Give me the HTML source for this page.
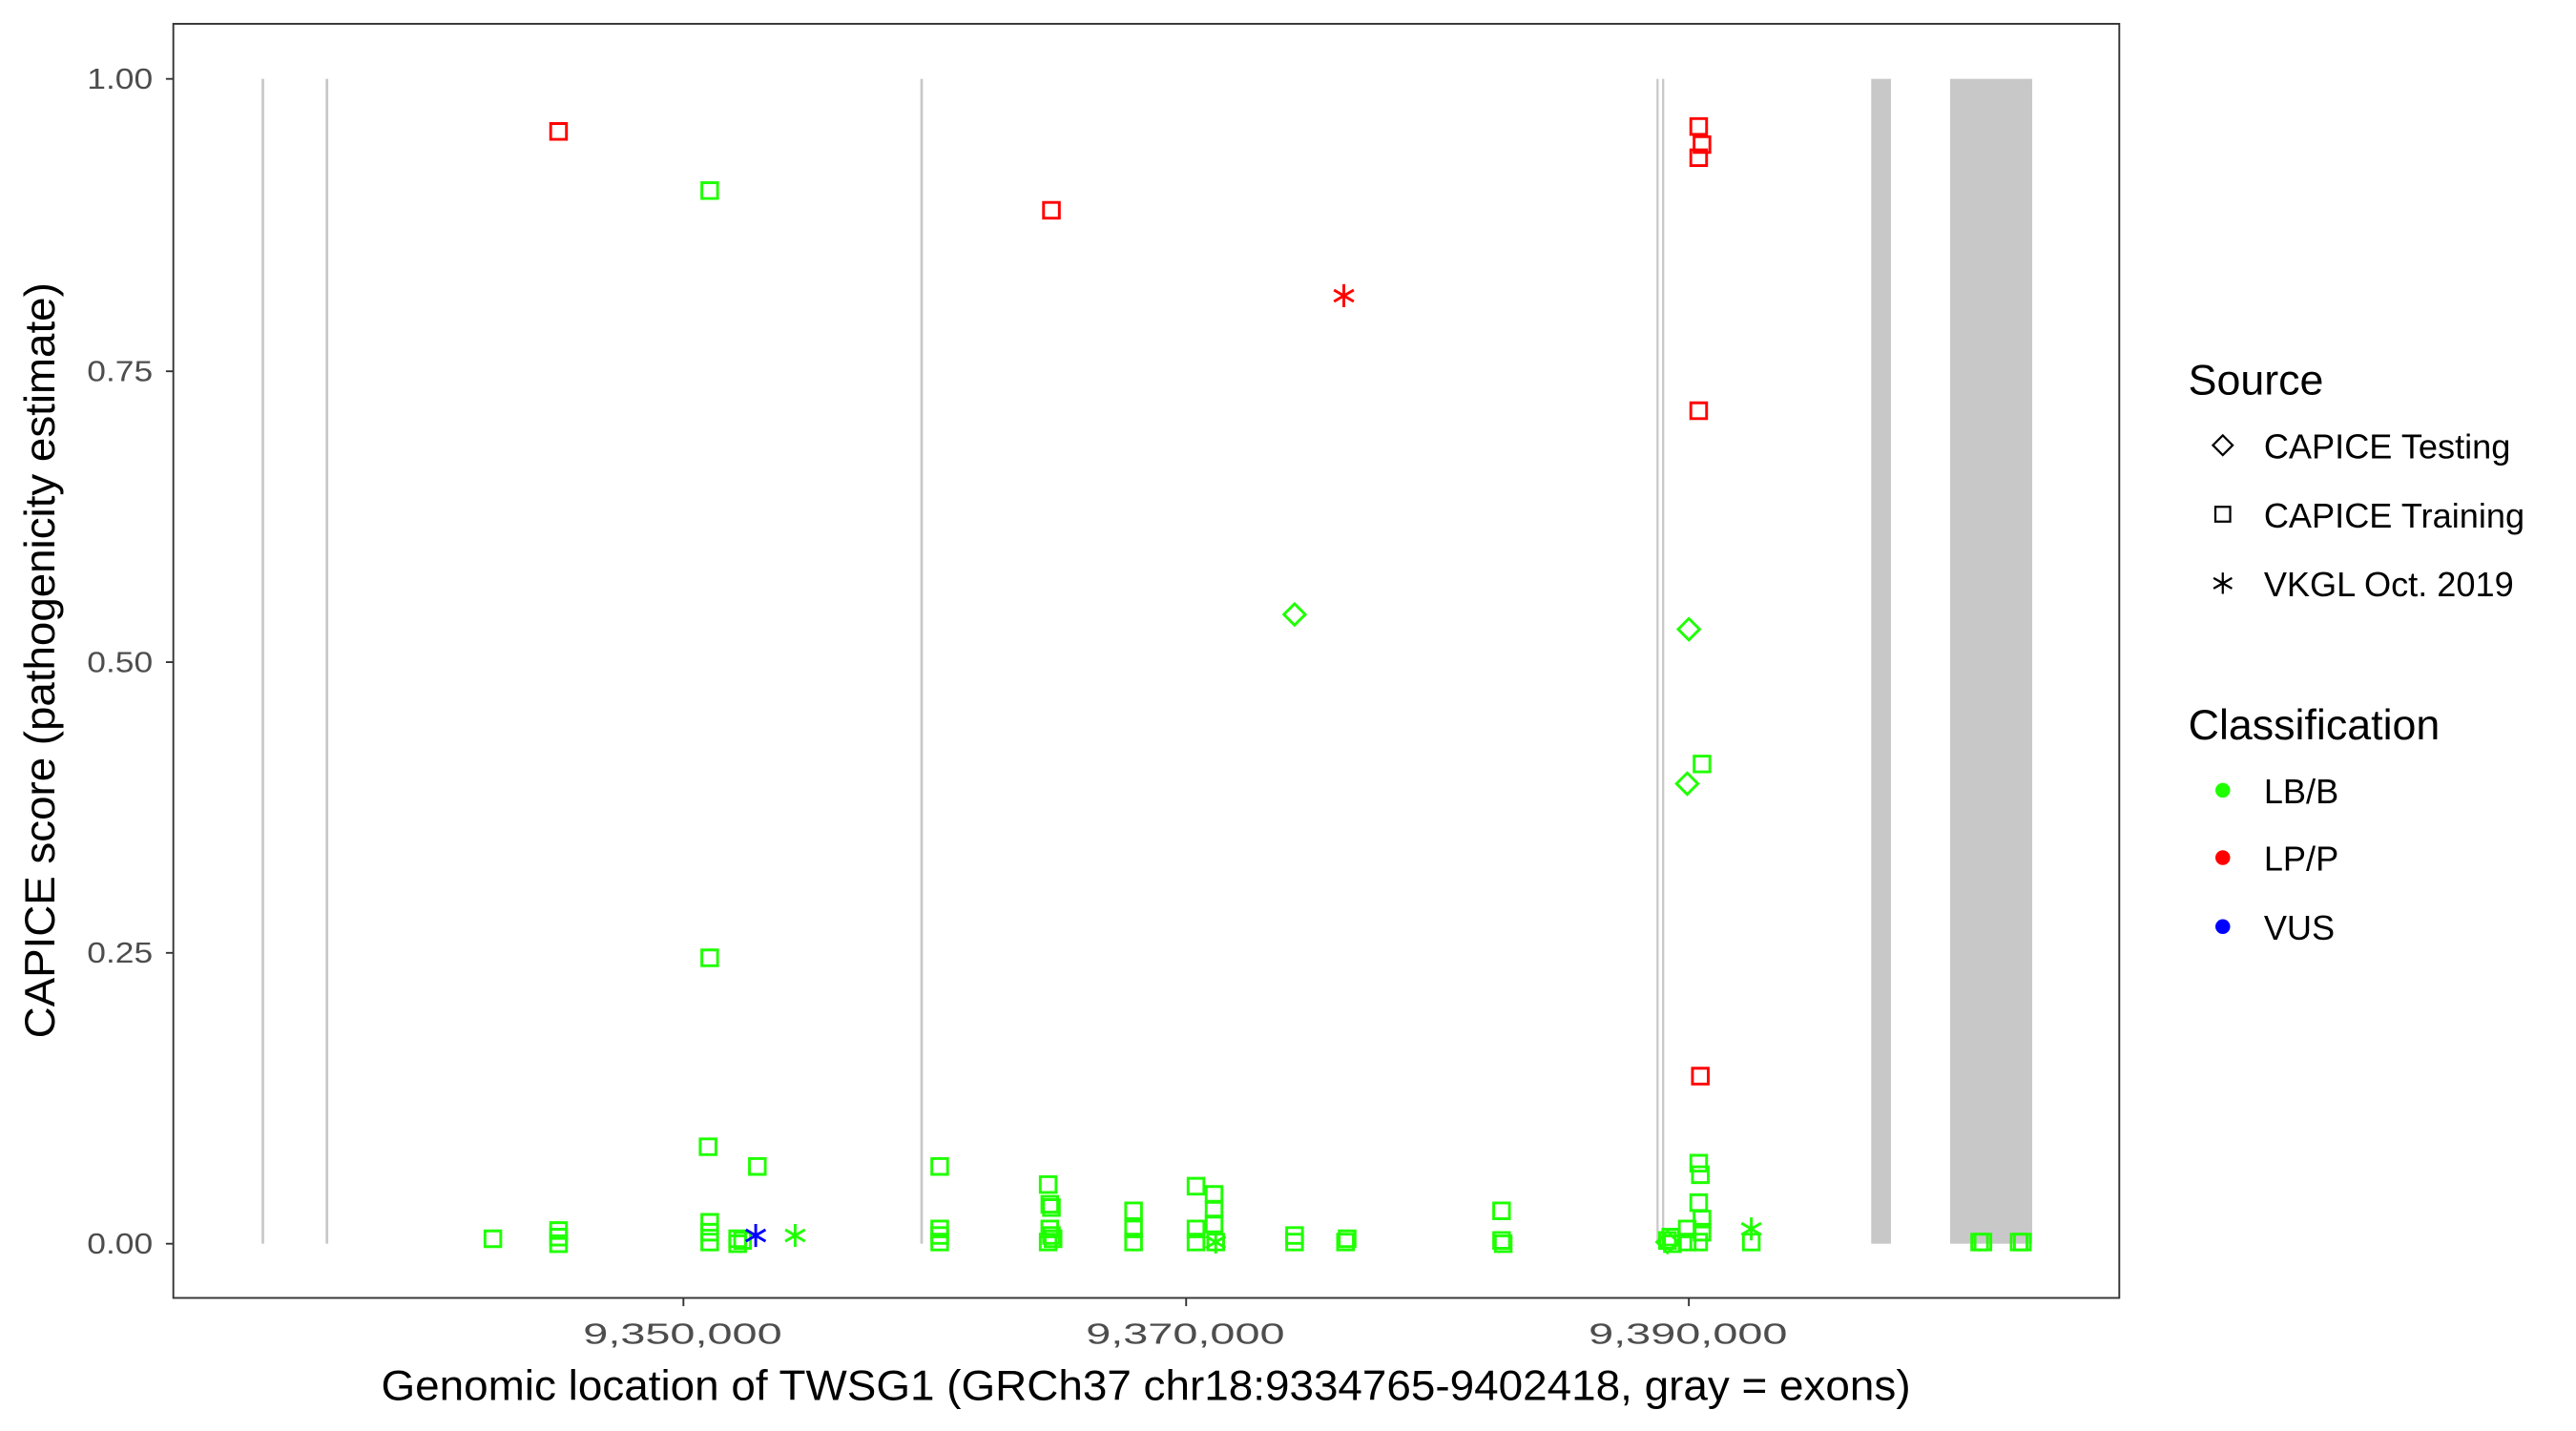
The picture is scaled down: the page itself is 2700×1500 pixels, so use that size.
<!DOCTYPE html>
<html><head><meta charset="utf-8"><style>html,body{margin:0;padding:0;background:#fff}svg{display:block}</style></head>
<body>
<svg width="2700" height="1500" viewBox="0 0 1568 871" preserveAspectRatio="none" xmlns="http://www.w3.org/2000/svg" font-family="Liberation Sans, sans-serif">
<rect width="1568" height="871" fill="#fff"/>
<g fill="#c8c8c8">
<rect x="159.2" y="48" width="1.6" height="709"/>
<rect x="198.2" y="48" width="1.6" height="709"/>
<rect x="560.2" y="48" width="1.6" height="709"/>
<rect x="1008.3" y="48" width="1.3" height="709"/>
<rect x="1011.7" y="48" width="1.3" height="709"/>
<rect x="1139" y="48" width="12" height="709"/>
<rect x="1187" y="48" width="50" height="709"/>
</g>
<defs>
<path id="sq" d="M-4.8,-4.8h9.6v9.6h-9.6z"/>
<path id="dm" d="M0,-6.5L6.5,0L0,6.5L-6.5,0z"/>
<path id="st" d="M0,-7V7M-6,-3.5L6,3.5M-6,3.5L6,-3.5"/>
</defs>
<g fill="none" stroke-width="1.7">
<g stroke="#1fff00">
<use href="#sq" x="432" y="116"/><use href="#sq" x="432" y="583"/><use href="#sq" x="431" y="698"/>
<use href="#sq" x="461" y="710"/><use href="#sq" x="432" y="744"/><use href="#sq" x="432" y="750"/>
<use href="#sq" x="432" y="756"/><use href="#sq" x="300" y="754"/><use href="#sq" x="340" y="749"/>
<use href="#sq" x="340" y="753"/><use href="#sq" x="340" y="757"/><use href="#sq" x="449" y="754"/>
<use href="#sq" x="449" y="757"/><use href="#sq" x="452" y="755"/><use href="#sq" x="572" y="710"/>
<use href="#sq" x="572" y="748"/><use href="#sq" x="572" y="752"/><use href="#sq" x="572" y="756"/>
<use href="#sq" x="638" y="721"/><use href="#sq" x="639" y="733"/><use href="#sq" x="640" y="735"/>
<use href="#sq" x="639" y="748"/><use href="#sq" x="640" y="752"/><use href="#sq" x="638" y="756"/>
<use href="#sq" x="641" y="754"/><use href="#sq" x="690" y="737"/><use href="#sq" x="690" y="748"/>
<use href="#sq" x="690" y="756"/><use href="#sq" x="728" y="722"/><use href="#sq" x="739" y="727"/>
<use href="#sq" x="739" y="736"/><use href="#sq" x="739" y="745"/><use href="#sq" x="728" y="748"/>
<use href="#sq" x="728" y="756"/><use href="#sq" x="740" y="756"/><use href="#sq" x="788" y="752"/>
<use href="#sq" x="788" y="756"/><use href="#sq" x="819" y="756"/><use href="#sq" x="820" y="754"/>
<use href="#sq" x="914" y="737"/><use href="#sq" x="914" y="755"/><use href="#sq" x="915" y="757"/>
<use href="#sq" x="1015" y="755"/><use href="#sq" x="1018" y="757"/><use href="#sq" x="1017" y="753"/>
<use href="#sq" x="1027" y="748"/><use href="#sq" x="1027" y="756"/><use href="#sq" x="1034" y="708"/>
<use href="#sq" x="1035" y="715"/><use href="#sq" x="1034" y="732"/><use href="#sq" x="1036" y="742"/>
<use href="#sq" x="1036" y="750"/><use href="#sq" x="1034" y="756"/><use href="#sq" x="1036" y="465"/>
<use href="#sq" x="1066" y="756"/><use href="#sq" x="1205" y="756"/><use href="#sq" x="1207" y="756"/>
<use href="#sq" x="1229" y="756"/><use href="#sq" x="1231" y="756"/>
<use href="#dm" x="788" y="374"/><use href="#dm" x="1028" y="383"/><use href="#dm" x="1027" y="477"/><use href="#dm" x="1015" y="756"/>
<use href="#st" x="484" y="752"/><use href="#st" x="740" y="756"/><use href="#st" x="1066" y="748"/>
</g>
<g stroke="#ff0000">
<use href="#sq" x="340" y="80"/><use href="#sq" x="640" y="128"/><use href="#sq" x="1034" y="77"/>
<use href="#sq" x="1036" y="88"/><use href="#sq" x="1034" y="96"/><use href="#sq" x="1034" y="250"/>
<use href="#sq" x="1035" y="655"/><use href="#st" x="818" y="180"/>
</g>
<g stroke="#0000ff"><use href="#st" x="460" y="752"/></g>
</g>
<rect x="105.5" y="14.5" width="1184.5" height="775.5" fill="none" stroke="#333" stroke-width="1.1"/>
<g stroke="#333" stroke-width="1.1">
<path d="M101,48H105.5M101,226H105.5M101,403H105.5M101,580H105.5M101,757H105.5"/>
<path d="M416,790V795M722,790V795M1028,790V795"/>
</g>
<g fill="#4d4d4d" font-size="18" text-anchor="end">
<text x="93" y="54" textLength="40" lengthAdjust="spacingAndGlyphs">1.00</text>
<text x="93" y="232" textLength="40" lengthAdjust="spacingAndGlyphs">0.75</text>
<text x="93" y="409" textLength="40" lengthAdjust="spacingAndGlyphs">0.50</text>
<text x="93" y="586" textLength="40" lengthAdjust="spacingAndGlyphs">0.25</text>
<text x="93" y="763" textLength="40" lengthAdjust="spacingAndGlyphs">0.00</text>
</g>
<g fill="#4d4d4d" font-size="18">
<text x="355" y="818" textLength="121" lengthAdjust="spacingAndGlyphs">9,350,000</text>
<text x="661" y="818" textLength="121" lengthAdjust="spacingAndGlyphs">9,370,000</text>
<text x="967" y="818" textLength="121" lengthAdjust="spacingAndGlyphs">9,390,000</text>
</g>
<text x="232" y="852" font-size="26" fill="#000" textLength="931" lengthAdjust="spacingAndGlyphs">Genomic location of TWSG1 (GRCh37 chr18:9334765-9402418, gray = exons)</text>
<text transform="translate(33,402) rotate(-90)" font-size="26" text-anchor="middle" fill="#000" textLength="460" lengthAdjust="spacingAndGlyphs">CAPICE score (pathogenicity estimate)</text>
<text x="1332" y="240" font-size="26" fill="#000">Source</text>
<g fill="none" stroke="#000" stroke-width="1.3">
<path d="M1353,265L1359,271L1353,277L1347,271z"/>
<path d="M1348.5,308.5h9v9h-9z"/>
<path d="M1353,348.5V361.5M1347.4,351.8L1358.6,358.2M1347.4,358.2L1358.6,351.8"/>
</g>
<g font-size="21" fill="#000">
<text x="1378" y="279">CAPICE Testing</text>
<text x="1378" y="321">CAPICE Training</text>
<text x="1378" y="363">VKGL Oct. 2019</text>
</g>
<text x="1332" y="450" font-size="26" fill="#000">Classification</text>
<circle cx="1353" cy="481" r="4.5" fill="#1fff00"/>
<circle cx="1353" cy="522" r="4.5" fill="#ff0000"/>
<circle cx="1353" cy="564" r="4.5" fill="#0000ff"/>
<g font-size="21" fill="#000">
<text x="1378" y="489">LB/B</text>
<text x="1378" y="530">LP/P</text>
<text x="1378" y="572">VUS</text>
</g>
</svg>
</body></html>
